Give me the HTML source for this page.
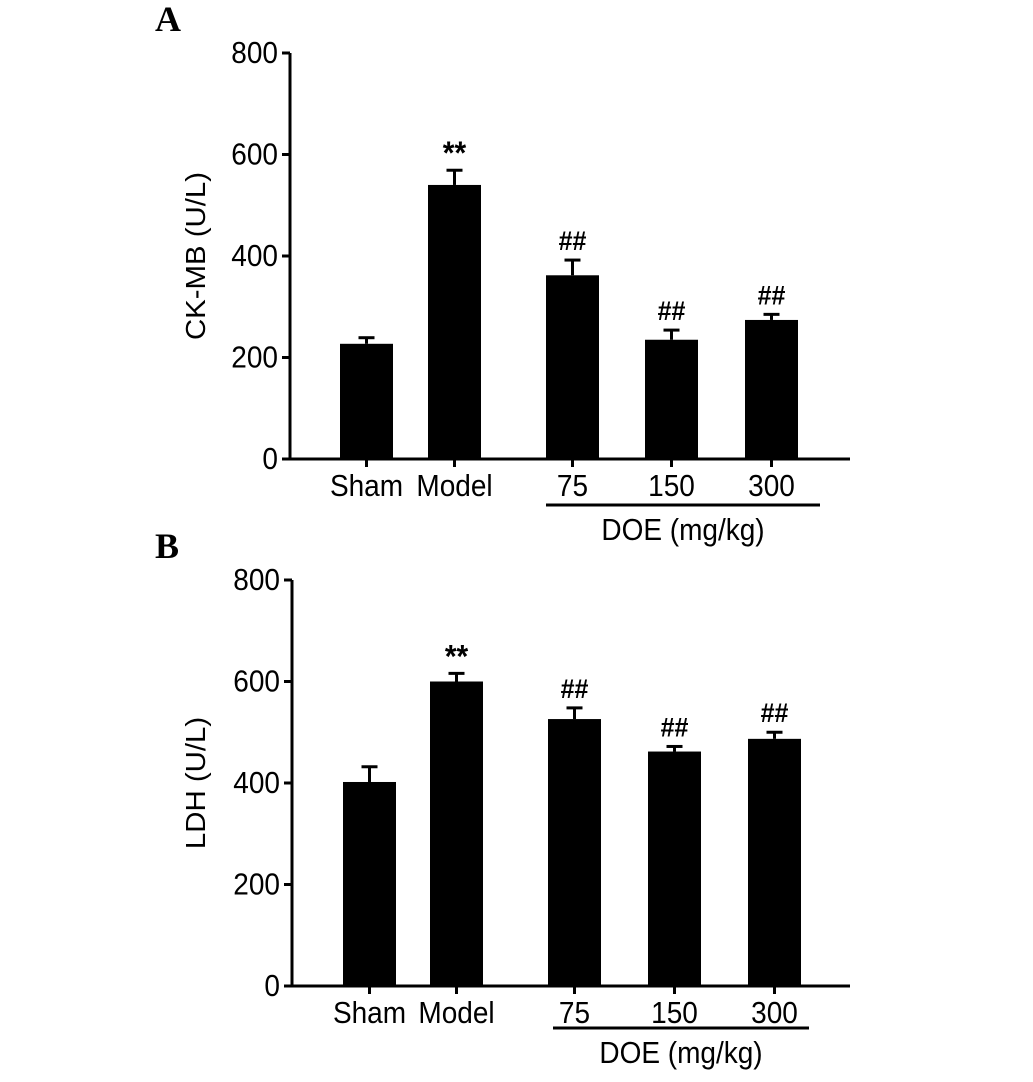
<!DOCTYPE html>
<html><head><meta charset="utf-8"><style>
body{margin:0;background:#fff;}
svg text{font-family:"Liberation Sans",Arial,sans-serif;fill:#000;}
svg text.serif{font-family:"Liberation Serif","Times New Roman",serif;}
</style></head><body>
<svg id="c" width="1033" height="1077" viewBox="0 0 1033 1077" xmlns="http://www.w3.org/2000/svg"></svg>
<script>
const categories=["Sham","Model","75","150","300"];
const ckmbValues=[227,540,362,235,274];
const ckmbErrors=[12,29,30,19,11];
const ldhValues=[402,600,526,462,487];
const ldhErrors=[30,16,22,10,13];
const ckmbMarks=["","**","##","##","##"];
const ldhMarks=["","**","##","##","##"];
const yTicks=[0,200,400,600,800];
const NS="http://www.w3.org/2000/svg";
const svg=document.getElementById('c');
function mk(t,a,p){const e=document.createElementNS(NS,t);for(const k in a)e.setAttribute(k,a[k]);(p||svg).appendChild(e);return e;}
function txt(p,x,y,s,size,anchor,extra){
  const e=mk('text',Object.assign({x:x,y:y,'font-size':size,'text-anchor':anchor,transform:`translate(${x},${y}) scale(1.0,1.08) translate(${-x},${-y})`},extra||{}),p);
  e.textContent=s;return e;
}
function panel(o){
  const g=mk('g',{});
  
  
  const y=v=>o.y0-(v/800)*(o.y0-o.y800);
  const xs=o.barLefts;
  const bw=53;
  const lt=mk('text',{x:o.letterX,y:o.y800-22,'font-size':36,'font-weight':'bold','class':'serif'},g);lt.textContent=o.letter;
  
  
  const ax=mk('line',{x1:o.ax,y1:o.y800,x2:o.ax,y2:o.y0+1,stroke:'#000','stroke-width':3},g);
  
  
  const xa=mk('line',{x1:o.ax-1,y1:o.y0,x2:850,y2:o.y0,stroke:'#000','stroke-width':3},g);
  
  
  yTicks.forEach(t=>{
    mk('line',{x1:o.ax-8,y1:y(t),x2:o.ax,y2:y(t),stroke:'#000','stroke-width':3},g);
    const tx=txt(g,o.ax-12,y(t)+10,String(t),28,'end');
    
    
  });
  const yt=mk('text',{x:0,y:0,'font-size':28,'text-anchor':'middle',transform:`translate(${o.titleX},${y(400)}) rotate(-90) scale(1.05,1.0)`},g);
  yt.textContent=o.title;
  
  
  categories.forEach((c,i)=>{
    const cx=xs[i]+bw/2;
    const v=o.vals[i],e=o.errs[i];
    mk('line',{x1:cx,y1:y(v+e),x2:cx,y2:y(v),stroke:'#000','stroke-width':3},g);
    mk('line',{x1:cx-8,y1:y(v+e),x2:cx+8,y2:y(v+e),stroke:'#000','stroke-width':3},g);
    const b=mk('rect',{x:xs[i],y:y(v),width:bw,height:o.y0-y(v),fill:'#000'},g);
    
    
    mk('line',{x1:cx,y1:o.y0,x2:cx,y2:o.y0+8,stroke:'#000','stroke-width':3},g);
    const lb=txt(g,cx,o.y0+37,c,28,'middle');
    
    
    if(o.marks[i]){
      const star=o.marks[i]=='**';
      const m=txt(g,cx,y(v+e)-(star?6:10),o.marks[i],star?30:25,'middle',{'font-weight':'bold'});
      
      
    }
  });
  const ul=mk('line',{x1:o.ulX1,y1:o.ulY,x2:o.ulX2,y2:o.ulY,stroke:'#000','stroke-width':3},g);
  
  
  const dl=txt(g,(o.ulX1+o.ulX2)/2,o.ulY+35,'DOE (mg/kg)',28,'middle');
  
  
}
panel({name:'panel-a-ckmb',letter:'A',letterX:155,ax:290,y0:459,y800:53,barLefts:[340,428,546,645,745],vals:ckmbValues,errs:ckmbErrors,marks:ckmbMarks,title:'CK-MB (U/L)',titleX:205,ulX1:546,ulX2:820,ulY:505});
panel({name:'panel-b-ldh',letter:'B',letterX:155,ax:292,y0:986,y800:580,barLefts:[343,430,548,648,748],vals:ldhValues,errs:ldhErrors,marks:ldhMarks,title:'LDH (U/L)',titleX:205,ulX1:553,ulX2:809,ulY:1028});
</script>
</body></html>
